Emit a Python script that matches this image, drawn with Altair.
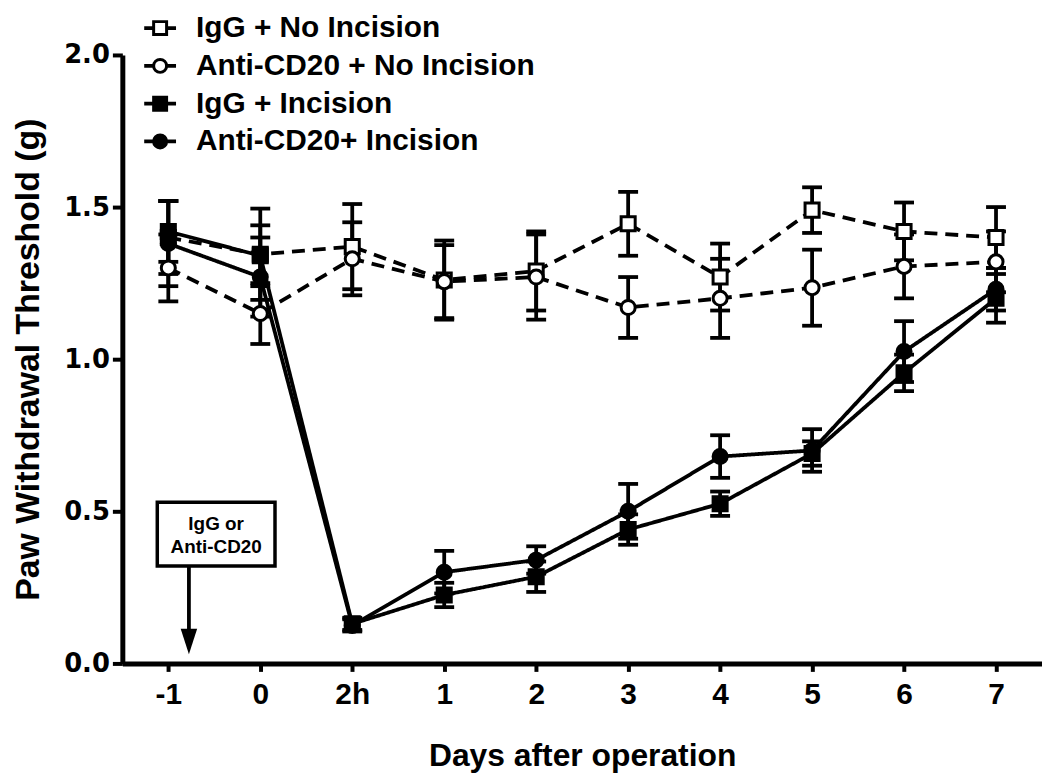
import altair as alt
import pandas as pd

# ---------------- data ----------------
day_labels = ["-1", "0", "2h", "1", "2", "3", "4", "5", "6", "7"]
series_names = ["IgG + No Incision", "Anti-CD20 + No Incision",
                "IgG + Incision", "Anti-CD20+ Incision"]

igg_noinc_mean = [1.40, 1.345, 1.37, 1.26, 1.29, 1.445, 1.27, 1.49, 1.42, 1.40]
igg_noinc_se = [0.12, 0.15, 0.14, 0.13, 0.13, 0.105, 0.11, 0.075, 0.095, 0.10]

cd20_noinc_mean = [1.30, 1.15, 1.33, 1.255, 1.27, 1.17, 1.20, 1.235, 1.305, 1.32]
cd20_noinc_se = [0.11, 0.10, 0.12, 0.12, 0.14, 0.10, 0.13, 0.125, 0.105, 0.10]

igg_inc_mean = [1.42, 1.34, 0.13, 0.225, 0.285, 0.44, 0.525, 0.69, 0.955, 1.20]
igg_inc_se = [0.10, 0.10, 0.02, 0.04, 0.05, 0.05, 0.04, 0.04, 0.06, 0.08]

cd20_inc_mean = [1.38, 1.27, 0.125, 0.30, 0.34, 0.50, 0.68, 0.70, 1.025, 1.23]
cd20_inc_se = [0.14, 0.13, 0.02, 0.07, 0.045, 0.09, 0.07, 0.07, 0.10, 0.07]

y_ticks = [0.0, 0.5, 1.0, 1.5, 2.0]

# annotation (box with arrow)
note_lines = ["IgG or", "Anti-CD20"]
note_box_x = [-0.12, 1.16]
note_box_y = [0.32, 0.53]
note_text_x = 0.52
note_text_y = [0.457, 0.382]
arrow_x = 0.224
arrow_y = [0.32, 0.10]
arrow_tip_y = 0.072

# ---------------- build table ----------------
means = [igg_noinc_mean, cd20_noinc_mean, igg_inc_mean, cd20_inc_mean]
ses = [igg_noinc_se, cd20_noinc_se, igg_inc_se, cd20_inc_se]
rows = []
for name, m, s in zip(series_names, means, ses):
    for i, (mv, sv) in enumerate(zip(m, s)):
        rows.append({"series": name, "idx": i, "day": day_labels[i],
                     "mean": mv, "lo": mv - sv, "hi": mv + sv})
df = pd.DataFrame(rows)

BOLD = "Liberation Sans"
label_expr = "[" + ",".join("'%s'" % d for d in day_labels) + "][datum.value]"

x_enc = alt.X("idx:Q", scale=alt.Scale(domain=[-0.5, 9.5], nice=False, zero=False),
              axis=alt.Axis(values=list(range(len(day_labels))), labelExpr=label_expr,
                            title="Days after operation", grid=False,
                            domainWidth=5, domainColor="black",
                            tickSize=8, tickWidth=4, tickColor="black",
                            labelFont=BOLD, labelFontSize=30, labelFontWeight="bold",
                            labelColor="black", labelPadding=8,
                            titleFont=BOLD, titleFontSize=32, titleFontWeight="bold",
                            titleColor="black", titlePadding=32))
y_scale = alt.Scale(domain=[0, 2], nice=False, zero=True)
y_enc = alt.Y("mean:Q", scale=y_scale,
              axis=alt.Axis(values=y_ticks, format=".1f",
                            title="Paw Withdrawal Threshold (g)", grid=False,
                            domainWidth=5, domainColor="black",
                            tickSize=10, tickWidth=4, tickColor="black",
                            labelFont="DejaVu Sans", labelFontSize=26, labelFontWeight="bold",
                            labelColor="black", labelPadding=3,
                            titleFont=BOLD, titleFontSize=34, titleFontWeight="bold",
                            titleColor="black", titlePadding=18))

shape_scale = alt.Scale(domain=series_names, range=["square", "circle", "square", "circle"])
fill_scale = alt.Scale(domain=series_names, range=["white", "white", "black", "black"])
dash_scale = alt.Scale(domain=series_names, range=[[13, 8], [13, 8], [1, 0], [1, 0]])

base = alt.Chart(df)

lines = base.mark_line(color="black", strokeWidth=3.8, opacity=1).encode(
    x=x_enc, y=y_enc, detail="series:N",
    strokeDash=alt.StrokeDash("series:N", scale=dash_scale, legend=None),
    order="idx:Q")

err = base.mark_rule(color="black", strokeWidth=3.8, opacity=1).encode(
    x="idx:Q", y=alt.Y("lo:Q", scale=y_scale), y2="hi:Q")
cap_hi = base.mark_tick(color="black", thickness=3.8, size=20, orient="horizontal",
                        opacity=1).encode(
    x="idx:Q", y=alt.Y("hi:Q", scale=y_scale))
cap_lo = base.mark_tick(color="black", thickness=3.8, size=20, orient="horizontal",
                        opacity=1).encode(
    x="idx:Q", y=alt.Y("lo:Q", scale=y_scale))

pts = base.mark_point(stroke="black", strokeWidth=3, size=200, opacity=1).encode(
    x="idx:Q", y=alt.Y("mean:Q", scale=y_scale),
    shape=alt.Shape("series:N", scale=shape_scale, legend=None),
    fill=alt.Fill("series:N", scale=fill_scale, legend=None))

# annotation
box_df = pd.DataFrame({"x1": [note_box_x[0]], "x2": [note_box_x[1]],
                       "y1": [note_box_y[0]], "y2": [note_box_y[1]]})
box = alt.Chart(box_df).mark_rect(fill="white", stroke="black", strokeWidth=3.5).encode(
    x="x1:Q", x2="x2:Q", y=alt.Y("y1:Q", scale=y_scale), y2="y2:Q")
note_df = pd.DataFrame({"t": note_lines, "x": [note_text_x] * 2, "y": note_text_y})
note = alt.Chart(note_df).mark_text(font=BOLD, fontSize=19, fontWeight="bold",
                                    color="black", baseline="middle").encode(
    x="x:Q", y=alt.Y("y:Q", scale=y_scale), text="t:N")
arr_df = pd.DataFrame({"x": [arrow_x], "y1": [arrow_y[0]], "y2": [arrow_y[1]]})
arr_line = alt.Chart(arr_df).mark_rule(color="black", strokeWidth=3.8, opacity=1).encode(
    x="x:Q", y=alt.Y("y1:Q", scale=y_scale), y2="y2:Q")
tip_df = pd.DataFrame({"x": [arrow_x], "y": [arrow_tip_y]})
arr_tip = alt.Chart(tip_df).mark_point(shape="M-0.65,-1L0.65,-1L0,1Z", filled=True,
                                       color="black", size=650, opacity=1).encode(
    x="x:Q", y=alt.Y("y:Q", scale=y_scale))

main = alt.layer(lines, err, cap_hi, cap_lo, pts, box, note, arr_line, arr_tip)

# legend (manual, top-left)
leg_df = pd.DataFrame({"series": series_names})
leg_y = alt.Y("series:N", scale=alt.Scale(type="point", domain=series_names,
                                          range=[-27, 87], padding=0), axis=None)
leg_rule = alt.Chart(leg_df).mark_rule(color="black", strokeWidth=3.8, opacity=1).encode(
    x=alt.value(22), x2=alt.value(54), y=leg_y)
leg_pt = alt.Chart(leg_df).mark_point(stroke="black", strokeWidth=3, size=170, opacity=1).encode(
    x=alt.value(38), y=leg_y,
    shape=alt.Shape("series:N", scale=shape_scale, legend=None),
    fill=alt.Fill("series:N", scale=fill_scale, legend=None))
leg_txt = alt.Chart(leg_df).mark_text(align="left", baseline="middle", font=BOLD,
                                      fontSize=30, fontWeight="bold", color="black").encode(
    x=alt.value(74), y=leg_y, text="series:N")
legend = alt.layer(leg_rule, leg_pt, leg_txt)

chart = alt.layer(main, legend).resolve_scale(y="independent").properties(
    width=925, height=612,
    autosize=alt.AutoSizeParams(type="none"),
    padding={"left": 115, "top": 45, "right": 0, "bottom": 112},
    background="white",
).configure_view(stroke=None)

chart.save("out.html", embed_options={"renderer": "svg", "actions": False})
